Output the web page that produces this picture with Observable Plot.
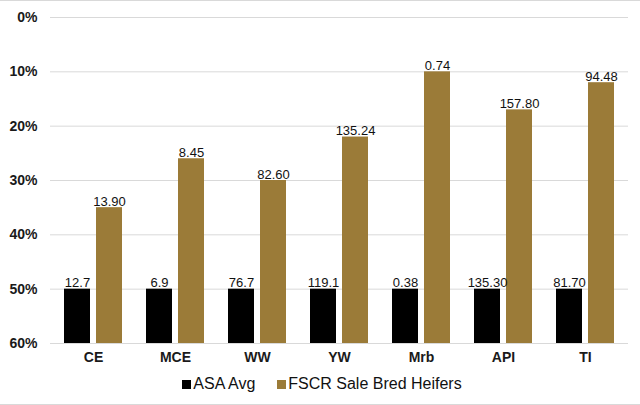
<!DOCTYPE html>
<html>
<head>
<meta charset="utf-8">
<script src="https://cdn.jsdelivr.net/npm/d3@7"></script>
<script src="https://cdn.jsdelivr.net/npm/@observablehq/plot@0.6"></script>
<style>
  html, body { margin: 0; padding: 0; background: #fff; }
  #wrap { width: 640px; height: 405px; box-sizing: border-box; border-top: 1px solid #d9d9d9; border-bottom: 1px solid #d9d9d9; font-family: "Liberation Sans", Arial, sans-serif; overflow: hidden; }
  #legend { display: flex; justify-content: center; align-items: center; gap: 22px; font-size: 16px; color: #111; margin-top: 4px; padding-left: 4px; }
  #legend span.item { display: inline-flex; align-items: center; gap: 2px; }
  #legend span.sw { display: inline-block; width: 9px; height: 9px; }
</style>
</head>
<body>
<div id="wrap"></div>
<script>
const categories = ["CE", "MCE", "WW", "YW", "Mrb", "API", "TI"];
const seriesNames = ["ASA Avg", "FSCR Sale Bred Heifers"];
const seriesColors = ["#000000", "#9b7b38"];
const asaPct = [50, 50, 50, 50, 50, 50, 50];
const fscrPct = [35, 26, 30, 22, 10, 17, 12];
const asaLabels = ["12.7", "6.9", "76.7", "119.1", "0.38", "135.30", "81.70"];
const fscrLabels = ["13.90", "8.45", "82.60", "135.24", "0.74", "157.80", "94.48"];
const yTicks = [0, 10, 20, 30, 40, 50, 60];

const asa = categories.map((c, i) => ({cat: c, value: asaPct[i], label: asaLabels[i]}));
const fscr = categories.map((c, i) => ({cat: c, value: fscrPct[i], label: fscrLabels[i]}));

const off = 16;
const chart = Plot.plot({
  width: 640,
  height: 370,
  marginTop: 16,
  marginBottom: 28,
  marginLeft: 50,
  marginRight: 12,
  style: {fontFamily: "'Liberation Sans', Arial, sans-serif", fontSize: "14px", fontWeight: "bold", color: "#1a1a1a", background: "#fff"},
  x: {domain: categories, paddingInner: 0.677, paddingOuter: 0.3385, tickSize: 0, tickPadding: 9, label: null},
  y: {domain: [0, 60], reverse: true, ticks: yTicks, tickFormat: d => d + "%", tickSize: 0, tickPadding: 13, label: null},
  marks: [
    Plot.ruleY(yTicks, {stroke: "#d9d9d9", strokeWidth: 1}),
    Plot.barY(asa, {x: "cat", y1: () => 60, y2: "value", dx: -off, fill: seriesColors[0], inset: 0}),
    Plot.barY(fscr, {x: "cat", y1: () => 60, y2: "value", dx: off, fill: seriesColors[1], inset: 0}),
    Plot.text(asa, {x: "cat", y: "value", dx: -off, dy: -2, text: "label", lineAnchor: "bottom", fontSize: 13, fontWeight: "normal", fill: "#111"}),
    Plot.text(fscr, {x: "cat", y: "value", dx: off, dy: -2, text: "label", lineAnchor: "bottom", fontSize: 13, fontWeight: "normal", fill: "#111"})
  ]
});
const wrap = document.getElementById("wrap");
wrap.appendChild(chart);
const legend = document.createElement("div");
legend.id = "legend";
seriesNames.forEach((n, i) => {
  const it = document.createElement("span");
  it.className = "item";
  const sw = document.createElement("span");
  sw.className = "sw";
  sw.style.background = seriesColors[i];
  const t = document.createElement("span");
  t.textContent = n;
  it.appendChild(sw); it.appendChild(t);
  legend.appendChild(it);
});
wrap.appendChild(legend);
</script>
</body>
</html>
